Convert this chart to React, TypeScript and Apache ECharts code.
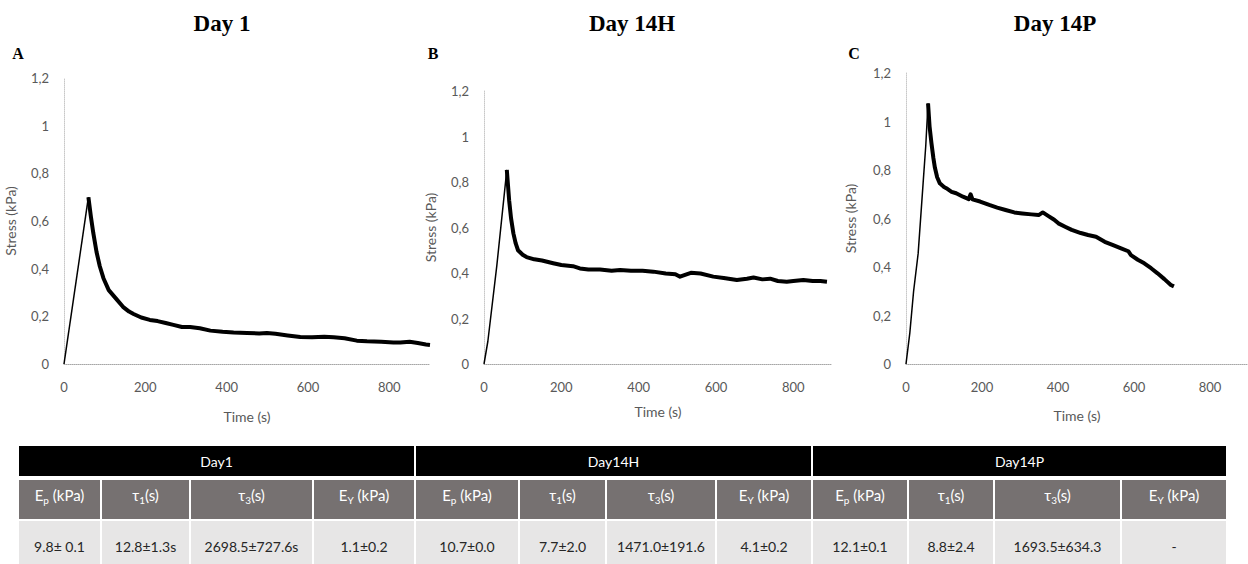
import React, { useEffect, useRef } from "react";
import * as echarts from "echarts";

// ---- Data ----
const panelTitles = ["Day 1", "Day 14H", "Day 14P"];
const panelLetters = ["A", "B", "C"];
const yTicks = [0, 0.2, 0.4, 0.6, 0.8, 1, 1.2];
const xTicks = [0, 200, 400, 600, 800];

const timeA = [0, 60, 66, 72, 80, 88, 97, 110, 120, 130, 145, 160, 171, 190, 211, 230, 250, 269, 290, 310, 334, 360, 390, 417, 450, 480, 499, 520, 550, 581, 610, 640, 663, 690, 720, 745, 780, 810, 827, 850, 870, 890, 900];
const stressA = [0, 0.70, 0.62, 0.55, 0.47, 0.41, 0.36, 0.31, 0.29, 0.27, 0.24, 0.22, 0.21, 0.195, 0.185, 0.18, 0.172, 0.164, 0.155, 0.155, 0.15, 0.14, 0.135, 0.132, 0.13, 0.128, 0.13, 0.127, 0.12, 0.113, 0.112, 0.114, 0.112, 0.108, 0.098, 0.095, 0.093, 0.09, 0.09, 0.093, 0.088, 0.082, 0.08];

const timeB = [0, 10, 33, 59, 65, 70, 76, 82, 88, 100, 110, 130, 150, 179, 200, 230, 248, 270, 300, 330, 352, 380, 410, 438, 470, 495, 507, 520, 535, 560, 593, 620, 654, 680, 697, 720, 740, 760, 783, 800, 826, 850, 870, 887];
const stressB = [0, 0.1, 0.43, 0.853, 0.72, 0.64, 0.574, 0.53, 0.5, 0.48, 0.47, 0.46, 0.455, 0.443, 0.435, 0.43, 0.42, 0.415, 0.415, 0.41, 0.413, 0.41, 0.41, 0.406, 0.398, 0.395, 0.384, 0.392, 0.401, 0.398, 0.384, 0.378, 0.369, 0.375, 0.38, 0.372, 0.375, 0.365, 0.362, 0.365, 0.369, 0.365, 0.365, 0.362];

const timeC = [0, 10, 20, 32, 45, 52, 58, 62, 67, 72, 76, 82, 89, 100, 106, 120, 132, 150, 165, 170, 175, 195, 219, 240, 262, 285, 306, 330, 349, 360, 375, 390, 401, 420, 436, 460, 479, 500, 523, 545, 566, 585, 592, 610, 627, 645, 662, 680, 697, 705];
const stressC = [0, 0.127, 0.3, 0.456, 0.745, 0.9, 1.075, 0.98, 0.91, 0.85, 0.81, 0.77, 0.745, 0.73, 0.725, 0.71, 0.704, 0.69, 0.68, 0.70, 0.679, 0.67, 0.656, 0.645, 0.635, 0.625, 0.621, 0.617, 0.614, 0.625, 0.61, 0.595, 0.58, 0.565, 0.553, 0.54, 0.532, 0.525, 0.504, 0.49, 0.477, 0.465, 0.449, 0.43, 0.415, 0.395, 0.374, 0.35, 0.326, 0.32];

const tableGroups = ["Day1", "Day14H", "Day14P"];
const paramNames = [
  ["E", "p", " (kPa)"],
  ["τ", "1", "(s)"],
  ["τ", "3", "(s)"],
  ["E", "Y", " (kPa)"],
];
const tableValues = [
  ["9.8± 0.1", "12.8±1.3s", "2698.5±727.6s", "1.1±0.2"],
  ["10.7±0.0", "7.7±2.0", "1471.0±191.6", "4.1±0.2"],
  ["12.1±0.1", "8.8±2.4", "1693.5±634.3", "-"],
];

// ---- Layout ----
const grids = [
  { left: 64, top: 78, width: 366, height: 286 },
  { left: 484, top: 91, width: 348, height: 273 },
  { left: 906, top: 73, width: 345, height: 291 },
];
const xNameGaps = [45, 40, 44];
const yNameGaps = [47, 47, 49];
const titleX = [222, 632, 1055];
const letterX = [18, 433, 854];
const colEdges = [18, 101, 190, 313, 415, 519, 606, 716, 812, 908, 994, 1121, 1227];

const FONT = "Lato, 'Open Sans', sans-serif";

function splitSeries(t: number[], s: number[], gi: number) {
  let peak = 0;
  s.forEach((v, i) => {
    if (v > s[peak]) peak = i;
  });
  const pts = t.map((x, i) => [x, s[i]]);
  return [
    {
      type: "line",
      xAxisIndex: gi,
      yAxisIndex: gi,
      data: pts.slice(0, peak + 1),
      symbol: "none",
      lineStyle: { color: "#000", width: 1.5 },
    },
    {
      type: "line",
      xAxisIndex: gi,
      yAxisIndex: gi,
      data: pts.slice(peak),
      symbol: "none",
      lineStyle: { color: "#000", width: 4, join: "round" },
    },
  ];
}

export default function App() {
  const ref = useRef<HTMLDivElement>(null);
  useEffect(() => {
    if (!ref.current) return;
    const chart = echarts.init(ref.current, undefined, { renderer: "svg" });

    const graphics: any[] = [];
    panelTitles.forEach((t, i) => {
      graphics.push({
        type: "text",
        x: titleX[i],
        y: 23,
        style: {
          text: t,
          font: "bold 23px 'Liberation Serif', 'Times New Roman', serif",
          fill: "#000",
          align: "center",
          verticalAlign: "middle",
        },
      });
      graphics.push({
        type: "text",
        x: letterX[i],
        y: 53,
        style: {
          text: panelLetters[i],
          font: "bold 16px 'Liberation Serif', 'Times New Roman', serif",
          fill: "#000",
          align: "center",
          verticalAlign: "middle",
        },
      });
    });

    // table
    const hTop = 446, hBot = 476, gTop = 480, gBot = 519, dTop = 521, dBot = 570;
    tableGroups.forEach((g, gi) => {
      const x0 = colEdges[gi * 4] + 1;
      const x1 = colEdges[gi * 4 + 4] - 1;
      graphics.push({
        type: "rect",
        shape: { x: x0, y: hTop, width: x1 - x0, height: hBot - hTop },
        style: { fill: "#000" },
      });
      graphics.push({
        type: "text",
        x: (x0 + x1) / 2,
        y: (hTop + hBot) / 2,
        style: {
          text: g,
          font: `14px ${FONT}`,
          fill: "#fff",
          align: "center",
          verticalAlign: "middle",
        },
      });
      paramNames.forEach((p, pi) => {
        const c0 = colEdges[gi * 4 + pi] + 1;
        const c1 = colEdges[gi * 4 + pi + 1] - 1;
        graphics.push({
          type: "rect",
          shape: { x: c0, y: gTop, width: c1 - c0, height: gBot - gTop },
          style: { fill: "#767171" },
        });
        graphics.push({
          type: "text",
          x: (c0 + c1) / 2,
          y: 495,
          style: {
            text: `{m|${p[0]}}{s|${p[1]}}{m|${p[2]}}`,
            align: "center",
            verticalAlign: "middle",
            rich: {
              m: { fontSize: 15, fontFamily: FONT, fill: "#fff", color: "#fff", lineHeight: 20, verticalAlign: "middle" },
              s: { fontSize: 10, fontFamily: FONT, fill: "#fff", color: "#fff", lineHeight: 20, verticalAlign: "bottom" },
            },
          },
        });
        graphics.push({
          type: "rect",
          shape: { x: c0, y: dTop, width: c1 - c0, height: dBot - dTop },
          style: { fill: "#e7e6e6" },
        });
        graphics.push({
          type: "text",
          x: (c0 + c1) / 2,
          y: 546,
          style: {
            text: tableValues[gi][pi],
            font: `14px ${FONT}`,
            fill: "#262626",
            align: "center",
            verticalAlign: "middle",
          },
        });
      });
    });

    const fmtY = (v: number) => (v === 0 ? "0" : String(+v.toFixed(1)).replace(".", ","));

    const option: any = {
      animation: false,
      backgroundColor: "#fff",
      grid: grids,
      xAxis: grids.map((_, i) => ({
        type: "value",
        gridIndex: i,
        min: xTicks[0],
        max: 900,
        interval: xTicks[1] - xTicks[0],
        name: "Time (s)",
        nameLocation: "middle",
        nameGap: xNameGaps[i],
        nameTextStyle: { fontFamily: FONT, fontSize: 14, color: "#595959" },
        axisLine: { lineStyle: { color: "#a6a6a6", type: "dotted", width: 1 } },
        axisTick: { show: false },
        splitLine: { show: false },
        axisLabel: {
          showMaxLabel: false,
          margin: 16,
          fontFamily: FONT,
          fontSize: 13,
          color: "#595959",
        },
      })),
      yAxis: grids.map((_, i) => ({
        type: "value",
        gridIndex: i,
        min: yTicks[0],
        max: yTicks[yTicks.length - 1],
        interval: 0.2,
        name: "Stress (kPa)",
        nameLocation: "middle",
        nameGap: yNameGaps[i],
        nameTextStyle: { fontFamily: FONT, fontSize: 14, color: "#595959" },
        axisLine: { show: true, lineStyle: { color: "#c8c8c8", type: "dotted", width: 1 } },
        axisTick: { show: false },
        splitLine: { show: false },
        axisLabel: {
          margin: 15,
          fontFamily: FONT,
          fontSize: 13,
          color: "#595959",
          formatter: fmtY,
        },
      })),
      series: [
        ...splitSeries(timeA, stressA, 0),
        ...splitSeries(timeB, stressB, 1),
        ...splitSeries(timeC, stressC, 2),
      ],
      graphic: graphics,
    };
    chart.setOption(option);
    return () => chart.dispose();
  }, []);

  return (
    <div
      ref={ref}
      style={{ position: "fixed", left: 0, top: 0, width: 1248, height: 564, background: "#fff" }}
    />
  );
}
